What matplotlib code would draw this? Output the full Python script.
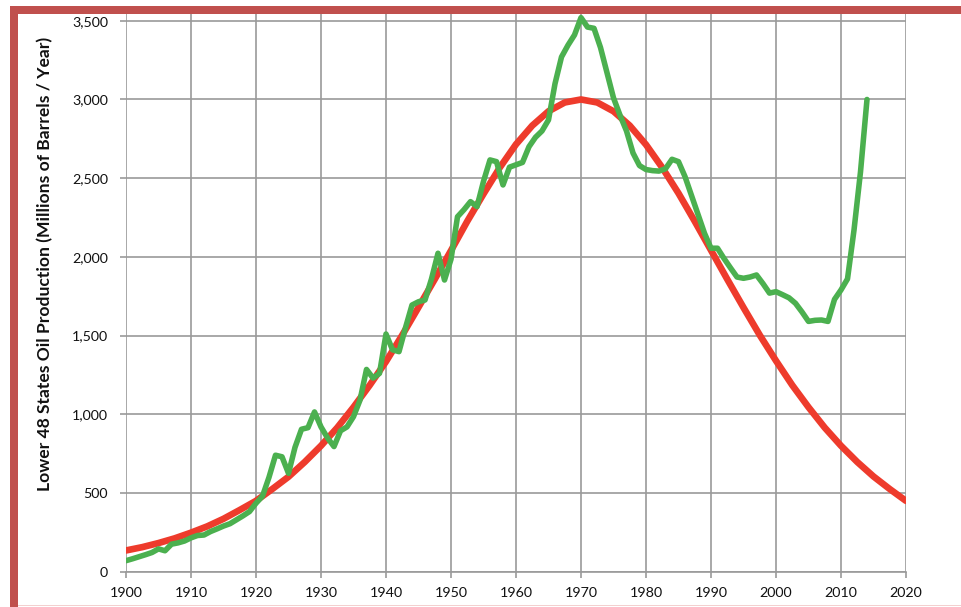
import matplotlib.pyplot as plt
from matplotlib.patches import Rectangle
from matplotlib.ticker import FuncFormatter

plt.rcParams['font.family'] = ['Lato', 'DejaVu Sans']

# Hubbert model curve (red), read every 2.5 years
model_years = [1900 + 2.5 * i for i in range(49)]
model_prod = [135, 156, 182, 212, 248, 288, 336, 392, 450, 525,
              603, 697, 800, 915, 1045, 1185, 1335, 1503, 1680, 1858,
              2040, 2226, 2400, 2567, 2715, 2834, 2925, 2981, 3000, 2981,
              2925, 2834, 2713, 2567, 2404, 2226, 2042, 1858, 1678, 1503,
              1340, 1185, 1045, 915, 800, 697, 605, 525, 450]

# Actual lower 48 production (green), yearly 1900-2014
actual_years = list(range(1900, 2015))
actual_prod = [
    70, 82, 95, 108, 122, 145, 133, 175, 183, 195,              # 1900s
    215, 230, 233, 255, 272, 290, 305, 330, 355, 382,           # 1910s
    435, 480, 600, 740, 730, 625, 790, 905, 915, 1015,          # 1920s
    920, 850, 795, 895, 920, 985, 1090, 1285, 1230, 1260,       # 1930s
    1510, 1410, 1398, 1550, 1694, 1715, 1726, 1860, 2023, 1853, # 1940s
    1985, 2255, 2300, 2351, 2319, 2480, 2616, 2605, 2457, 2570, # 1950s
    2585, 2600, 2700, 2760, 2800, 2870, 3100, 3270, 3345, 3410, # 1960s
    3520, 3460, 3452, 3330, 3170, 3010, 2900, 2800, 2660, 2580, # 1970s
    2555, 2548, 2545, 2560, 2620, 2605, 2510, 2390, 2270, 2150, # 1980s
    2055, 2055, 1990, 1930, 1872, 1864, 1872, 1885, 1830, 1770, # 1990s
    1779, 1760, 1740, 1705, 1650, 1590, 1597, 1599, 1590, 1730, # 2000s
    1790, 1860, 2170, 2540, 3000,                               # 2010s
]

W, H = 961, 607
fig = plt.figure(figsize=(W / 100, H / 100), dpi=100)
ax = fig.add_axes([126 / W, 1 - 571.7 / H, (906 - 126) / W, (571.7 - 14) / H])

ax.plot(model_years, model_prod, color='#ee3b2c', linewidth=4.8, solid_capstyle='round',
        solid_joinstyle='round', zorder=3)
ax.plot(actual_years, actual_prod, color='#4bb04f', linewidth=4.0, solid_capstyle='round',
        solid_joinstyle='round', zorder=4)

ax.set_xlim(1900, 2020)
ax.set_ylim(0, 3543)
ax.set_xticks(range(1900, 2021, 10))
ax.set_yticks(range(0, 3501, 500))
ax.yaxis.set_major_formatter(FuncFormatter(lambda v, p: f"{int(v):,}"))

ax.grid(True, color='#9a9a9a', linewidth=1.2)
ax.set_axisbelow(True)
for s in ['top', 'right', 'left']:
    ax.spines[s].set_visible(False)
ax.spines['bottom'].set_color('#9a9a9a')
ax.spines['bottom'].set_linewidth(1.2)
ax.tick_params(axis='both', direction='out', length=4, width=1.2, color='#9a9a9a',
               labelsize=10.3, labelcolor='#111111')
ax.tick_params(axis='y', pad=9)
ax.tick_params(axis='x', pad=7)

fig.text(45 / W, 1 - 264 / H, 'Lower 48 States Oil Production (Millions of Barrels / Year)',
         rotation=90, ha='center', va='center', fontsize=12.6, fontweight='bold', color='#111111')

# red frame (top and left), faint line at bottom
border = '#c0504d'
fig.add_artist(Rectangle((10 / W, 1 - 14 / H), 1, 8 / H, transform=fig.transFigure,
                         facecolor=border, edgecolor='none', zorder=10))
fig.add_artist(Rectangle((10 / W, 0), 8 / W, 1 - 6 / H, transform=fig.transFigure,
                         facecolor=border, edgecolor='none', zorder=10))
fig.add_artist(Rectangle((18 / W, 1 - 606 / H), 1, 1 / H, transform=fig.transFigure,
                         facecolor='#f3d0cf', edgecolor='none', zorder=10))

fig.savefig('out.png', dpi=100)
